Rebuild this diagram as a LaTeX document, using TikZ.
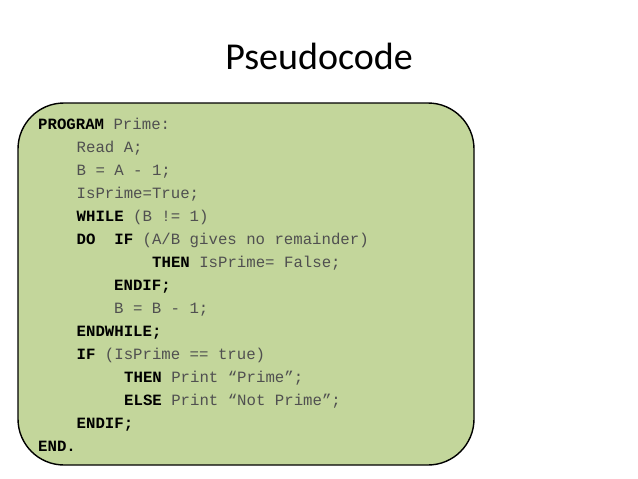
\documentclass[tikz,border=0pt]{standalone}
\usepackage{fontspec}
\setmainfont{Carlito}
\setmonofont{Liberation Mono}
\definecolor{boxgreen}{HTML}{C3D69B}
\definecolor{codegray}{HTML}{505050}
\tikzset{
  codeline/.style={anchor=base west,inner sep=0pt,font=\ttfamily\fontsize{15.7}{18}\selectfont,text=codegray},
}
\newcommand{\kw}[1]{\textbf{\color{black}#1}}
\begin{document}
\begin{tikzpicture}[x=1pt,y=-1pt]
        \useasboundingbox (0,0) rectangle (638,479);
        %% Title
        \node[anchor=base,inner sep=0pt,font=\fontsize{38}{40}\selectfont] (title) at (319,69) {Pseudocode};
        %% Box
        \node[draw,line width=1.4pt,rounded corners=46pt,fill=boxgreen,minimum width=456pt,minimum height=362pt] (box) at (246,284) {};
        %% Code
        \node[codeline] (l1) at (38,129.5) {\kw{PROGRAM} Prime:};
        \node[codeline] (l2) at (76.5,152.5) {Read A;};
        \node[codeline] (l3) at (76.5,175.5) {B = A - 1;};
        \node[codeline] (l4) at (76.5,198.5) {IsPrime=True;};
        \node[codeline] (l5) at (76.5,221.5) {\kw{WHILE} (B != 1)};
        \node[codeline] (l6) at (76.5,244.5) {\kw{DO}\ \ \kw{IF} (A/B gives no remainder)};
        \node[codeline] (l7) at (152,267.5) {\kw{THEN} IsPrime= False;};
        \node[codeline] (l8) at (114,290.5) {\kw{ENDIF;}};
        \node[codeline] (l9) at (114,313.5) {B = B - 1;};
        \node[codeline] (l10) at (76.5,336.5) {\kw{ENDWHILE;}};
        \node[codeline] (l11) at (76.5,359.5) {\kw{IF} (IsPrime == true)};
        \node[codeline] (l12) at (124,382.5) {\kw{THEN} Print “Prime”;};
        \node[codeline] (l13) at (124,405.5) {\kw{ELSE} Print “Not Prime”;};
        \node[codeline] (l14) at (76.5,428.5) {\kw{ENDIF;}};
        \node[codeline] (l15) at (38,451.5) {\kw{END.}};
    \end{tikzpicture}
\end{document}
